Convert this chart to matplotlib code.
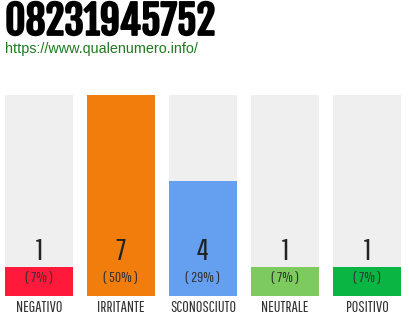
import matplotlib
matplotlib.use("Agg")
import matplotlib.pyplot as plt
import matplotlib.patheffects as pe

title = "08231945752"
url = "https://www.qualenumero.info/"
categories = ["NEGATIVO", "IRRITANTE", "SCONOSCIUTO", "NEUTRALE", "POSITIVO"]
values = [1, 7, 4, 1, 1]
percents = ["( 7% )", "( 50% )", "( 29% )", "( 7% )", "( 7% )"]
colors = ["#FF1A3C", "#F07D0C", "#659FF0", "#7DCB5E", "#09B643"]

BG = "#EFEFEF"
INK = "#222222"
TITLE_FONT = ["Fjalla One", "DejaVu Sans"]
THIN_FONT = ["Pathway Gothic One", "DejaVu Sans"]

fig = plt.figure(figsize=(4.1, 3.2), dpi=100)
fig.patch.set_facecolor("white")

fig.text(5/410, 1-22/320, title, fontsize=28.5, family=TITLE_FONT,
         color="black", va="center", ha="left",
         path_effects=[pe.withStroke(linewidth=1.3, foreground="black")])
fig.text(5/410, 1-49/320, url, fontsize=10.4, family=["Liberation Sans"],
         color="#1F7A1F", va="center", ha="left")

# bars: 68 px wide, 82 px pitch
w = 68/82
ax = fig.add_axes([5/410, 24/320, 396/410, 201/320])
x = list(range(len(values)))
vmax = max(values)
ax.bar(x, [vmax]*len(values), width=w, color=BG, zorder=1)
ax.bar(x, values, width=w, color=colors, zorder=2)
ax.set_xlim(-w/2, len(values)-1+w/2)
ax.set_ylim(0, vmax)
ax.axis("off")

trans = ax.get_xaxis_transform()
for xi, v, p, c in zip(x, values, percents, categories):
    ax.text(xi, 44/201, str(v), transform=trans, ha="center", va="center",
            fontsize=22, family=THIN_FONT, color=INK, zorder=3)
    ax.text(xi, 18/201, p, transform=trans, ha="center", va="center",
            fontsize=11, family=THIN_FONT, color="#333333", zorder=3)
    ax.text(xi, -11/201, c, transform=trans, ha="center", va="center",
            fontsize=11.5, family=THIN_FONT, color="#333333", zorder=3)

fig.savefig("out.png", dpi=100, facecolor="white")
